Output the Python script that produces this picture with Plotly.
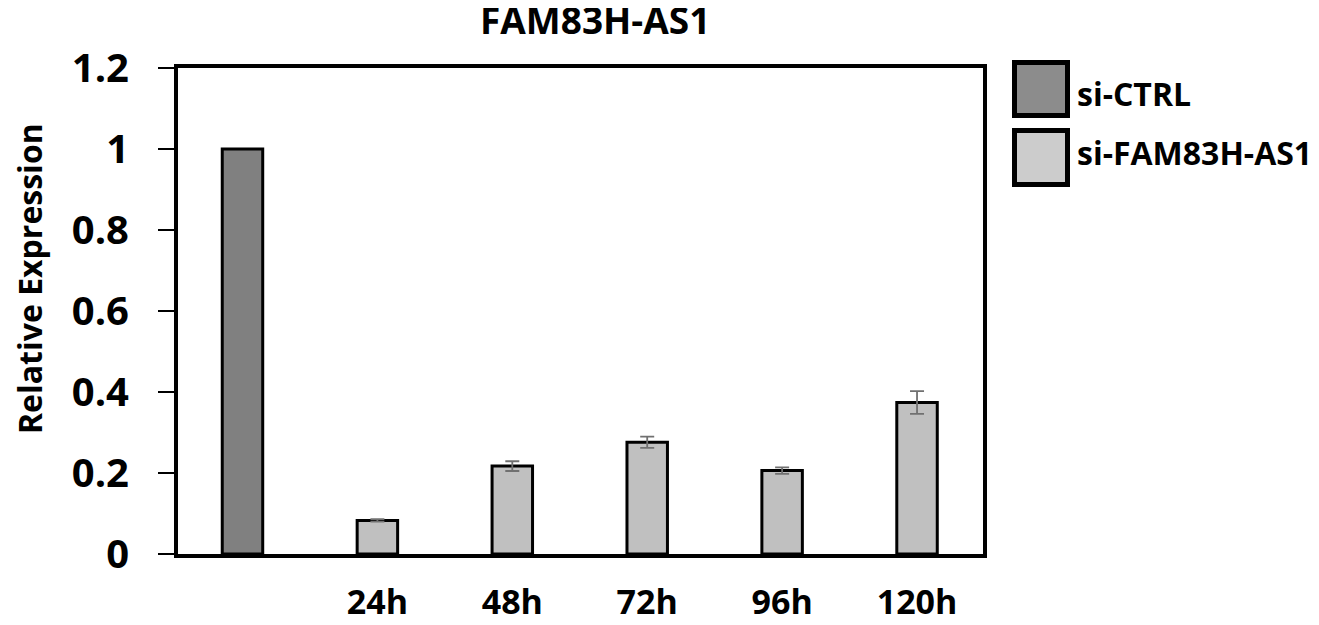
import plotly.graph_objects as go

# ---- data ----
title_text = "FAM83H-AS1"
y_title = "Relative Expression"
ctrl_name = "si-CTRL"
kd_name = "si-FAM83H-AS1"
ctrl_cat = [" "]
ctrl_vals = [1.0]
kd_cats = ["24h", "48h", "72h", "96h", "120h"]
kd_vals = [0.083, 0.217, 0.276, 0.206, 0.374]
kd_err = [0.003, 0.012, 0.014, 0.008, 0.028]
y_ticks = [0, 0.2, 0.4, 0.6, 0.8, 1.0, 1.2]

FONT = "Open Sans"
ctrl_color = "#808080"
kd_color = "#C0C0C0"

# page body has an 8px margin: work in screen pixels and subtract it
OFF = 8
W, H = 1319, 625
L, R, T, B = 178 - OFF, 983 - OFF, 68 - OFF, 554 - OFF


def px_x(p):
    return (p - OFF - L) / (R - L)


def px_y(p):
    return (B - (p - OFF)) / (B - T)


fig = go.Figure()
fig.add_trace(go.Bar(
    x=ctrl_cat, y=ctrl_vals, name=ctrl_name, width=0.3,
    marker=dict(color=ctrl_color, line=dict(color="black", width=3)),
    showlegend=False,
))
fig.add_trace(go.Bar(
    x=kd_cats, y=kd_vals, name=kd_name, width=0.3,
    marker=dict(color=kd_color, line=dict(color="black", width=3)),
    error_y=dict(type="data", array=kd_err, visible=True,
                 color="#707070", thickness=1.8, width=7),
    showlegend=False,
))

fig.update_layout(
    width=W, height=H,
    margin=dict(l=L, r=W - R, t=T, b=H - B, autoexpand=False),
    plot_bgcolor="white", paper_bgcolor="white",
    barmode="overlay",
    font=dict(family=FONT, color="black"),
    xaxis=dict(
        type="category", automargin=False,
        categoryorder="array", categoryarray=ctrl_cat + kd_cats,
        range=[-0.478, 5.489],
        showline=True, linecolor="black", linewidth=4, mirror=True,
        ticks="", showgrid=False, zeroline=False,
        tickfont=dict(family=FONT, size=34, color="black", weight="bold"),
        ticklabelstandoff=15,
    ),
    yaxis=dict(
        range=[0, 1.2], tickvals=y_ticks, automargin=False,
        showline=True, linecolor="black", linewidth=4, mirror=True,
        ticks="outside", ticklen=16, tickwidth=2, tickcolor="black",
        showgrid=False, zeroline=False,
        tickfont=dict(family=FONT, size=40, color="black", weight="bold"),
        ticklabelstandoff=21,
    ),
    showlegend=False,
)

# title
fig.add_annotation(text="<b>%s</b>" % title_text, xref="paper", yref="paper",
                   x=px_x(595), y=px_y(19), xanchor="center", yanchor="middle",
                   showarrow=False, font=dict(family=FONT, size=37, color="black"))
# y axis title
fig.add_annotation(text="<b>%s</b>" % y_title, xref="paper", yref="paper",
                   x=px_x(29), y=px_y(279), xanchor="center", yanchor="middle",
                   textangle=-90, showarrow=False,
                   font=dict(family=FONT, size=32, color="black"))

# manual legend (screen pixel boxes)
legend_items = [(ctrl_name, "#8C8C8C", 62.5, 115.5, 93),
                (kd_name, "#CCCCCC", 130.5, 184.5, 152)]
for name, col, y0, y1, yc in legend_items:
    fig.add_shape(type="rect", xref="paper", yref="paper",
                  x0=px_x(1014.5), x1=px_x(1067.5), y0=px_y(y1), y1=px_y(y0),
                  fillcolor=col, line=dict(color="black", width=5))
    fig.add_annotation(text="<b>%s</b>" % name, xref="paper", yref="paper",
                       x=px_x(1075), y=px_y(yc), xanchor="left", yanchor="middle",
                       showarrow=False,
                       font=dict(family=FONT, size=32, color="black"))

fig.write_html("out.html")
